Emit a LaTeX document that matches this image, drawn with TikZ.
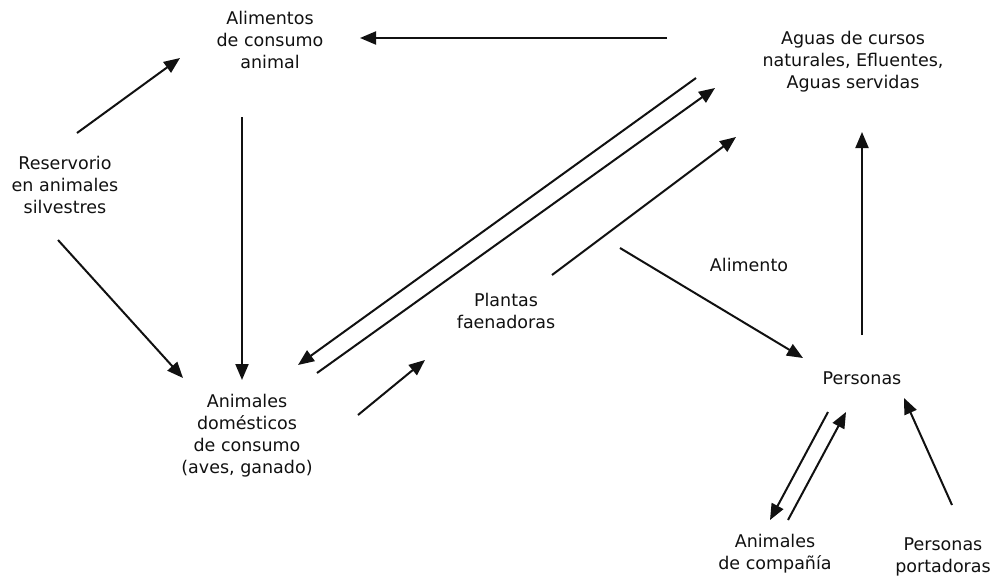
\documentclass[tikz,border=0pt]{standalone}
\usepackage{fontspec}
\setmainfont{DejaVu Sans}
\usetikzlibrary{arrows.meta}
\definecolor{inkgray}{HTML}{111111}
\tikzset{
  actor/.style={align=center, inner sep=2pt, text=inkgray,
    font=\fontsize{17.5}{22}\selectfont},
  flowlab/.style={actor},
  flow/.style={-{Triangle[length=16pt, width=13pt]}, line width=2pt, draw=inkgray},
}
\begin{document}
\begin{tikzpicture}[x=1pt, y=-1pt]
\useasboundingbox (0,0) rectangle (1000,581);
% reservoirs and hosts
\node[actor] (alim) at (270,40) {Alimentos\\de consumo\\animal};
\node[actor] (aguas) at (853,62) {Aguas de cursos\\naturales, Efluentes,\\Aguas servidas};
\node[actor] (res) at (65,185) {Reservorio\\en animales\\silvestres};
\node[actor] (plant) at (506,311) {Plantas\\faenadoras};
\node[actor] (dom) at (247,436) {Animales\\dom\'esticos\\de consumo\\(aves, ganado)};
\node[actor] (pers) at (862,378) {Personas};
\node[actor] (comp) at (775,554) {Animales\\de compa\~n\'ia};
\node[actor] (port) at (943,557) {Personas\\portadoras};
\node[flowlab] (alimlab) at (749,265) {Alimento};
% transmission routes
\draw[flow] ([shift={(-186,-24)}]aguas.center) -- ([shift={(90,-2)}]alim.center);
\draw[flow] ([shift={(12,-52)}]res.center) -- ([shift={(-90,18)}]alim.center);
\draw[flow] ([shift={(-7,55)}]res.center) -- ([shift={(-64,-58)}]dom.center);
\draw[flow] ([shift={(-28,77)}]alim.center) -- ([shift={(-5,-56)}]dom.center);
\draw[flow] ([shift={(-157,16)}]aguas.center) -- ([shift={(51,-71)}]dom.center);
\draw[flow] ([shift={(70,-63)}]dom.center) -- ([shift={(-138,26)}]aguas.center);
\draw[flow] ([shift={(111,-21)}]dom.center) -- ([shift={(-81,49)}]plant.center);
\draw[flow] ([shift={(46,-36)}]plant.center) -- ([shift={(-117,75)}]aguas.center);
\draw[flow] ([shift={(114,-63)}]plant.center) -- ([shift={(-59,-20)}]pers.center);
\draw[flow] ([shift={(0,-43)}]pers.center) -- ([shift={(9,70)}]aguas.center);
\draw[flow] ([shift={(-34,34)}]pers.center) -- ([shift={(-5,-34)}]comp.center);
\draw[flow] ([shift={(13,-34)}]comp.center) -- ([shift={(-16,34)}]pers.center);
\draw[flow] ([shift={(9,-52)}]port.center) -- ([shift={(42,20)}]pers.center);
\end{tikzpicture}
\end{document}
